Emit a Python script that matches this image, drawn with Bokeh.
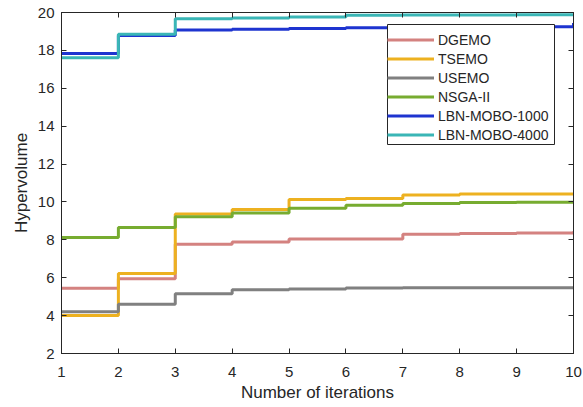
from bokeh.plotting import figure
from bokeh.models import (Range1d, LinearAxis, Legend, LegendItem, FixedTicker, BoxAnnotation,
                          CustomLabelingPolicy)
from bokeh.embed import file_html
from bokeh.resources import INLINE

iterations = [1, 2, 3, 4, 5, 6, 7, 8, 9, 10]
dgemo = [5.45, 5.95, 7.77, 7.88, 8.04, 8.05, 8.30, 8.33, 8.36, 8.45]
tsemo = [4.00, 6.22, 9.37, 9.60, 10.13, 10.18, 10.37, 10.42, 10.42, 10.44]
usemo = [4.20, 4.60, 5.15, 5.37, 5.41, 5.46, 5.47, 5.47, 5.47, 5.48]
nsga2 = [8.12, 8.65, 9.22, 9.42, 9.67, 9.82, 9.92, 9.97, 9.99, 10.05]
lbn1000 = [17.84, 18.78, 19.07, 19.11, 19.16, 19.20, 19.23, 19.24, 19.25, 19.45]
lbn4000 = [17.61, 18.85, 19.67, 19.71, 19.76, 19.86, 19.87, 19.87, 19.88, 19.90]

series = [
    ("DGEMO", dgemo, "#D48280"),
    ("TSEMO", tsemo, "#EDB120"),
    ("USEMO", usemo, "#808080"),
    ("NSGA-II", nsga2, "#77AC30"),
    ("LBN-MOBO-1000", lbn1000, "#1E34D0"),
    ("LBN-MOBO-4000", lbn4000, "#3AB6B6"),
]

x_ticks = list(range(1, 11))
y_ticks = list(range(2, 21, 2))

FONT = "Liberation Sans"
TXT = "#262626"

p = figure(width=583, height=407, output_backend="svg", toolbar_location=None,
           x_range=Range1d(1, 10), y_range=Range1d(2, 20),
           min_border_left=61, min_border_right=10, min_border_top=12, min_border_bottom=54)
p.grid.visible = False
p.outline_line_color = TXT
p.background_fill_color = "white"

for ax in (p.xaxis[0], p.yaxis[0]):
    ax.major_tick_in = 5
    ax.major_tick_out = 0
    ax.minor_tick_line_color = None
    ax.axis_line_color = TXT
    ax.major_tick_line_color = TXT
    ax.major_label_text_font = FONT
    ax.major_label_text_font_size = "15px"
    ax.major_label_text_color = TXT
    ax.axis_label_text_font = FONT
    ax.axis_label_text_font_size = "17px"
    ax.axis_label_text_font_style = "normal"
    ax.axis_label_text_color = TXT

p.xaxis[0].ticker = FixedTicker(ticks=x_ticks)
p.yaxis[0].ticker = FixedTicker(ticks=y_ticks)
p.xaxis[0].axis_label = "Number of iterations"
p.yaxis[0].axis_label = "Hypervolume"
p.xaxis[0].major_label_standoff = 13
p.xaxis[0].axis_label_standoff = 3
p.yaxis[0].major_label_standoff = 7
p.yaxis[0].axis_label_standoff = 4

# tick marks only (no labels) on the top and right edges, as in a boxed MATLAB axes
for loc, ticks in (("above", x_ticks), ("right", y_ticks)):
    ax = LinearAxis(ticker=FixedTicker(ticks=ticks), major_tick_in=5, major_tick_out=0,
                    minor_tick_line_color=None, major_label_text_font_size="0px",
                    major_label_standoff=0, axis_line_color=TXT, major_tick_line_color=TXT,
                    major_label_policy=CustomLabelingPolicy(
                        code="for (const i of indices) { indices.unset(i) }\nreturn indices"))
    p.add_layout(ax, loc)

items = []
for name, vals, color in series:
    r = p.step(iterations, vals, mode="after", line_color=color, line_width=3)
    items.append(LegendItem(label=name, renderers=[r]))

# legend frame (white box with border), drawn beneath the legend entries
legend_box = BoxAnnotation(left=387, right=554, top=24, bottom=144,
                           left_units="canvas", right_units="canvas",
                           top_units="canvas", bottom_units="canvas",
                           fill_color="white", fill_alpha=1,
                           line_color=TXT, line_width=1, line_alpha=1, editable=False)
p.add_layout(legend_box)

legend = Legend(items=items, location=(326, 209),
                label_text_font=FONT, label_text_font_size="14px", label_text_color=TXT,
                glyph_width=47, glyph_height=19, label_height=19, spacing=0,
                padding=3, label_standoff=4, margin=0,
                border_line_color=None, background_fill_alpha=0)
p.add_layout(legend)

open("out.html", "w").write(file_html(p, INLINE))
